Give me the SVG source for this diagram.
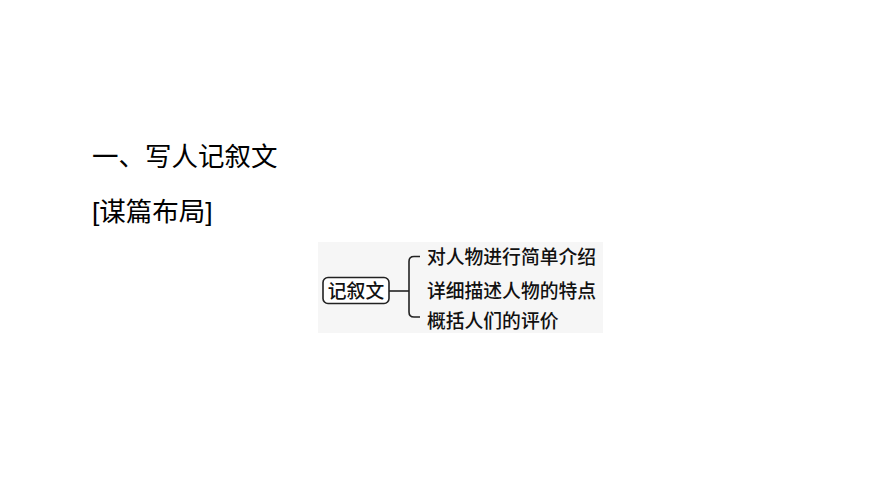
<svg xmlns="http://www.w3.org/2000/svg" width="870" height="489" viewBox="0 0 870 489">
<style>
.h{font-family:"Liberation Sans","Noto Sans CJK SC",sans-serif;font-size:26.5px;fill:#000}
.t{font-family:"Noto Sans CJK SC",sans-serif;font-size:18.8px;font-weight:500;fill:#111}
.ln{fill:none;stroke:#222;stroke-width:1.6}
</style>
<rect width="870" height="489" fill="#fff"/>
<text class="h" x="92" y="166">一、写人记叙文</text>
<text class="h" x="92" y="221">[谋篇布局]</text>
<rect x="318" y="242" width="285" height="91" fill="#f6f6f6"/>
<g id="root">
<rect x="323" y="277.5" width="66" height="26" rx="5" fill="#fff" stroke="#222" stroke-width="1.6"/>
<text class="t" x="356" y="297.5" text-anchor="middle">记叙文</text>
</g>
<g id="connectors">
<path class="ln" d="M389 291 H409"/>
<path class="ln" d="M420 256.5 H414 Q409 256.5 409 261.5 V312 Q409 317 414 317 H420"/>
</g>
<g id="n1"><text class="t" x="427" y="263.5">对人物进行简单介绍</text></g>
<g id="n2"><text class="t" x="427" y="297.5">详细描述人物的特点</text></g>
<g id="n3"><text class="t" x="427" y="327.5">概括人们的评价</text></g>
</svg>
